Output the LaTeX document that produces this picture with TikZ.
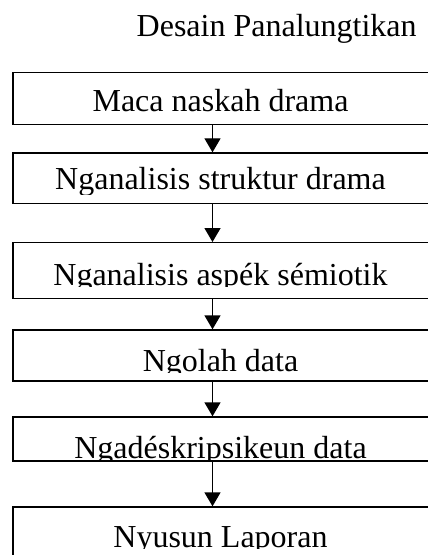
\documentclass[tikz,border=0pt]{standalone}
\usepackage{fontspec}
\setmainfont{Liberation Serif}
\usetikzlibrary{arrows.meta,fit}
\begin{document}
\begin{tikzpicture}[x=0.75pt,y=-0.75pt,
  box/.style={draw=black,fill=white,line width=1pt,inner sep=0pt},
  txt/.style={anchor=base,inner sep=0pt,font=\fontsize{24}{28}\selectfont},
  arr/.style={draw=black,line width=1pt,-{Triangle[width=12pt,length=10.5pt]}}]
\useasboundingbox (0,0) rectangle (427,555);
% title
\node[txt] (title) at (276.7,36.7) {Desain Panalungtikan};
% boxes
\node[box,fit={(13,72.7) (430,124.3)}] (b1) {};
\node[box,fit={(13,153) (430,203.3)}] (b2) {};
\node[box,fit={(13,242.7) (430,298.3)}] (b3) {};
\node[box,fit={(13,330) (430,381)}] (b4) {};
\node[box,fit={(13,417) (430,461)}] (b5) {};
\node[box,fit={(13,507) (430,575)}] (b6) {};
% texts (clipped as in the reference)
\begin{scope}\clip (b1.north west) rectangle (430,123);
\node[txt] (t1) at (220.5,111.7) {Maca naskah drama};\end{scope}
\begin{scope}\clip (b2.north west) rectangle (430,195);
\node[txt] (t2) at (220.5,190) {Nganalisis struktur drama};\end{scope}
\begin{scope}\clip (b3.north west) rectangle (430,286.5);
\node[txt] (t3) at (220.5,285) {Nganalisis asp\'ek s\'emiotik};\end{scope}
\begin{scope}\clip (b4.north west) rectangle (430,372.5);
\node[txt] (t4) at (220.5,371) {Ngolah data};\end{scope}
\begin{scope}\clip (b5.north west) rectangle (430,459.5);
\node[txt] (t5) at (220.5,458) {Ngad\'eskripsikeun data};\end{scope}
\begin{scope}\clip (b6.north west) rectangle (430,548.5);
\node[txt] (t6) at (220.5,547) {Nyusun Laporan};\end{scope}
% arrows
\coordinate (ax) at (212.5,0);
\draw[arr] (b1.south -| ax) -- (b2.north -| ax);
\draw[arr] (b2.south -| ax) -- (b3.north -| ax);
\draw[arr] (b3.south -| ax) -- (b4.north -| ax);
\draw[arr] (b4.south -| ax) -- (b5.north -| ax);
\draw[arr] (b5.south -| ax) -- (b6.north -| ax);
\end{tikzpicture}
\end{document}
